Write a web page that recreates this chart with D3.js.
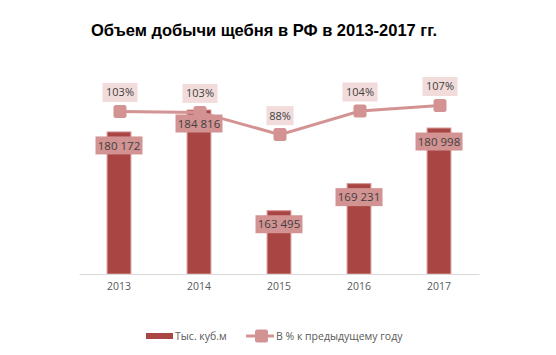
<!DOCTYPE html>
<html><head><meta charset="utf-8">
<script src="https://cdn.jsdelivr.net/npm/d3@7"></script>
<style>body{margin:0;background:#fff}svg{display:block}</style>
</head><body><svg id="c" width="556" height="355"></svg>
<script>
const years = ["2013","2014","2015","2016","2017"];
const volumes = [180172, 184816, 163495, 169231, 180998];
const volumeLabels = ["180 172","184 816","163 495","169 231","180 998"];
const pct = [103.2, 102.6, 88.5, 103.5, 107.0];
const pctLabels = ["103%","103%","88%","104%","107%"];
const seriesNames = ["Тыс. куб.м", "В % к предыдущему году"];
const title = "Объем добычи щебня в РФ в 2013-2017 гг.";

const svg = d3.select("#c");
const font = "'Open Sans', 'Noto Sans', sans-serif";
const barColor = "#A94644", barStroke = "#D59695", lineColor = "#D39393", pctBox = "#F2DCDB";

const x = d3.scaleBand().domain(years).range([79, 479]).paddingInner(0.69).paddingOuter(0.345);
const y = d3.scaleLinear().domain([150000, 190000]).range([274, 85]);
const y2 = d3.scaleLinear().domain([0, 120]).range([274, 85]);

svg.append("text").attr("x", 264).attr("y", 36).attr("text-anchor","middle")
  .attr("font-family","'Liberation Sans', Arial, sans-serif").attr("font-weight","bold")
  .attr("font-size", 16.5).attr("fill","#000").text(title);

// bars
svg.selectAll("rect.bar").data(years).join("rect").attr("class","bar")
  .attr("x", d => x(d) + 0.5).attr("width", x.bandwidth() - 1)
  .attr("y", (d,i) => y(volumes[i]) + 0.5).attr("height", (d,i) => 274 - y(volumes[i]) - 0.5)
  .attr("fill", barColor).attr("stroke", barStroke).attr("stroke-width", 1);

// axis
const xAxis = d3.axisBottom(x).tickSize(0).tickPadding(9);
const gx = svg.append("g").attr("transform","translate(0,274)").call(xAxis);
gx.select(".domain").attr("stroke","#D9D9D9").attr("stroke-width",1.2);
gx.selectAll("text").attr("font-family",font).attr("font-size",10.5).attr("fill","#595959");

// line
const cx = d => x(d) + x.bandwidth()/2 + 1;
const line = d3.line().x((d,i) => cx(years[i])).y(d => y2(d));
svg.append("path").datum(pct).attr("d", line).attr("fill","none")
  .attr("stroke", lineColor).attr("stroke-width", 3);
svg.selectAll("rect.mk").data(pct).join("rect").attr("class","mk")
  .attr("x",(d,i)=>cx(years[i])-6.5).attr("y", d=>y2(d)-6.5).attr("width",13).attr("height",13)
  .attr("rx",2.5).attr("fill", lineColor);

// volume labels
const vg = svg.selectAll("g.vl").data(years).join("g").attr("class","vl")
  .attr("transform",(d,i)=>`translate(${x(d)+x.bandwidth()/2},${y(volumes[i])+13.5})`);
vg.append("rect").attr("x",-23.5).attr("y",-8.5).attr("width",47).attr("height",18).attr("fill",lineColor);
vg.append("text").attr("text-anchor","middle").attr("dy","0.36em").attr("y",0.5)
  .attr("font-family",font).attr("font-size",11.5).attr("fill","#404040")
  .text((d,i)=>volumeLabels[i]);

// pct labels
const pg = svg.selectAll("g.pl").data(years).join("g").attr("class","pl")
  .attr("transform",(d,i)=>`translate(${cx(d)},${y2(pct[i])-19})`);
pg.each(function(d,i){
  const g = d3.select(this);
  const w = pctLabels[i].length === 3 ? 27 : 35;
  g.append("rect").attr("x",-w/2).attr("y",-9.5).attr("width",w).attr("height",19).attr("fill",pctBox);
  g.append("text").attr("text-anchor","middle").attr("dy","0.36em")
    .attr("font-family",font).attr("font-size",11).attr("fill","#404040").text(pctLabels[i]);
});

// legend
const lg = svg.append("g");
lg.append("rect").attr("x",146).attr("y",333).attr("width",27).attr("height",6).attr("fill",barColor);
lg.append("text").attr("x",175).attr("y",336).attr("dy","0.35em").attr("font-family",font)
  .attr("font-size",10.5).attr("fill","#595959").text(seriesNames[0]);
lg.append("line").attr("x1",246).attr("x2",274).attr("y1",336).attr("y2",336).attr("stroke",lineColor).attr("stroke-width",3);
lg.append("rect").attr("x",255).attr("y",329.5).attr("width",13).attr("height",13).attr("rx",2.5).attr("fill",lineColor);
lg.append("text").attr("x",276).attr("y",336).attr("dy","0.35em").attr("font-family",font)
  .attr("font-size",10.5).attr("fill","#595959").text(seriesNames[1]);
</script></body></html>
